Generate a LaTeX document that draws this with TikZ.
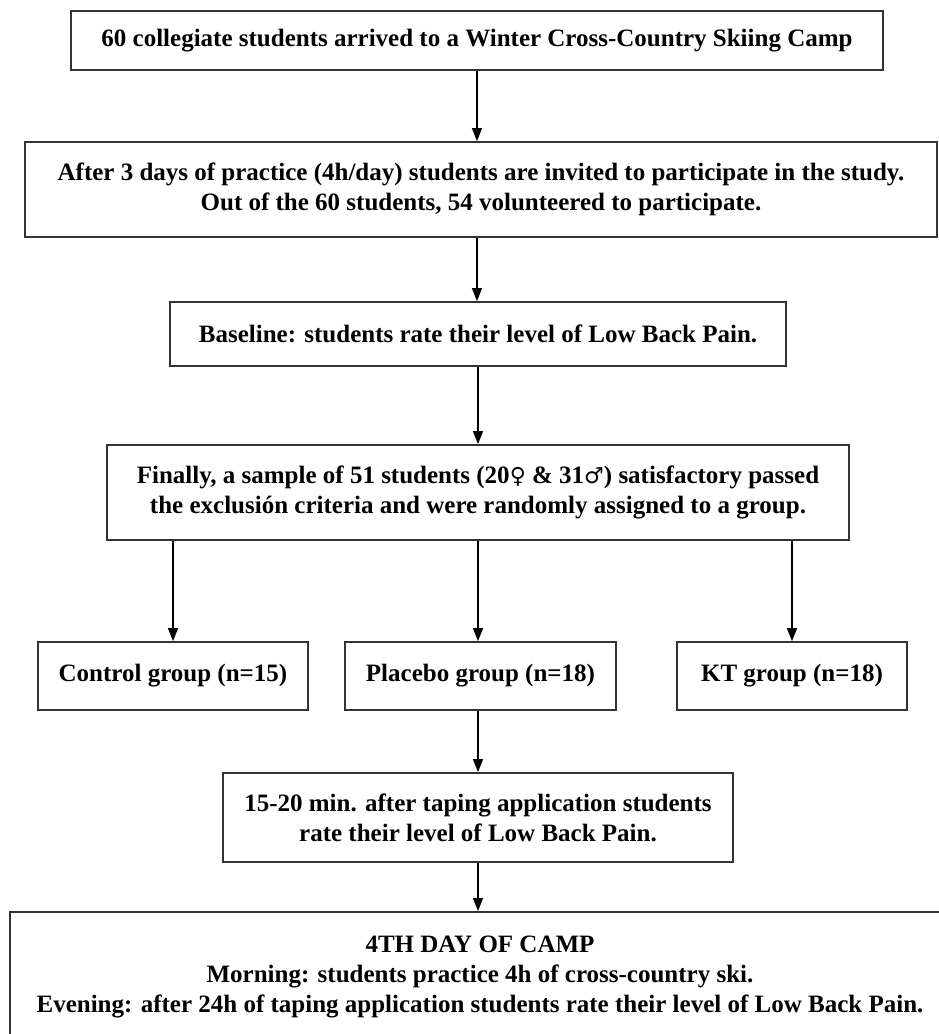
\documentclass[tikz,border=0pt]{standalone}
\usepackage{fontspec}
\setmainfont{Liberation Serif}
\newfontfamily\symfont{DejaVu Sans}
\usetikzlibrary{arrows.meta}
\begin{document}
\begin{tikzpicture}[x=1pt,y=1pt,
  box/.style={draw=black!80, line width=1.8pt, fill=white, inner sep=0pt, align=center,
              font=\bfseries\fontsize{25}{30}\selectfont},
  arr/.style={line width=1.4pt, -{Triangle[length=13pt,width=10pt]}}]
\useasboundingbox (0,0) rectangle (939,-1034);
\clip (0,0) rectangle (939,-1034);
\node[box, minimum width=812, minimum height=59] (b1) at (477,-40.5)
  {60 collegiate students arrived to a Winter Cross-Country Skiing Camp};
\node[box, minimum width=912, minimum height=95] (b2) at (481,-189.5)
  {After 3 days of practice (4h/day) students are invited to participate in the study.\\
   Out of the 60 students, 54 volunteered to participate.};
\node[box, minimum width=616, minimum height=64] (b3) at (478,-334)
  {Baseline: students rate their level of Low Back Pain.};
\node[box, minimum width=742, minimum height=95] (b4) at (478,-492.5)
  {Finally, a sample of 51 students (20{\symfont\mdseries\fontsize{22}{30}\selectfont ♀} \& 31{\symfont\mdseries\fontsize{22}{30}\selectfont ♂}) satisfactory passed\\
   the exclusión criteria and were randomly assigned to a group.};
\node[box, minimum width=270, minimum height=68] (ctrl) at (173,-676) {Control group (n=15)};
\node[box, minimum width=271, minimum height=68] (plac) at (480.5,-676) {Placebo group (n=18)};
\node[box, minimum width=230, minimum height=68] (kt) at (792,-676) {KT group (n=18)};
\node[box, minimum width=510, minimum height=89] (b5) at (478,-817.5)
  {15-20 min. after taping application students\\ rate their level of Low Back Pain.};
\node[box, minimum width=940, minimum height=130] (b6) at (480,-977)
  {4TH DAY OF CAMP\\ Morning: students practice 4h of cross-country ski.\\
   Evening: after 24h of taping application students rate their level of Low Back Pain.};
\draw[arr] (b1.south) -- (b1.south |- b2.north);
\draw[arr] (b2.south -| b1.south) -- (b1.south |- b3.north);
\draw[arr] (b3.south) -- (b4.north);
\draw[arr] (ctrl.north |- b4.south) -- (ctrl.north);
\draw[arr] (b4.south) -- (b4.south |- plac.north);
\draw[arr] (kt.north |- b4.south) -- (kt.north);
\draw[arr] (plac.south -| b5.north) -- (b5.north);
\draw[arr] (b5.south) -- (b5.south |- b6.north);
\end{tikzpicture}
\end{document}
